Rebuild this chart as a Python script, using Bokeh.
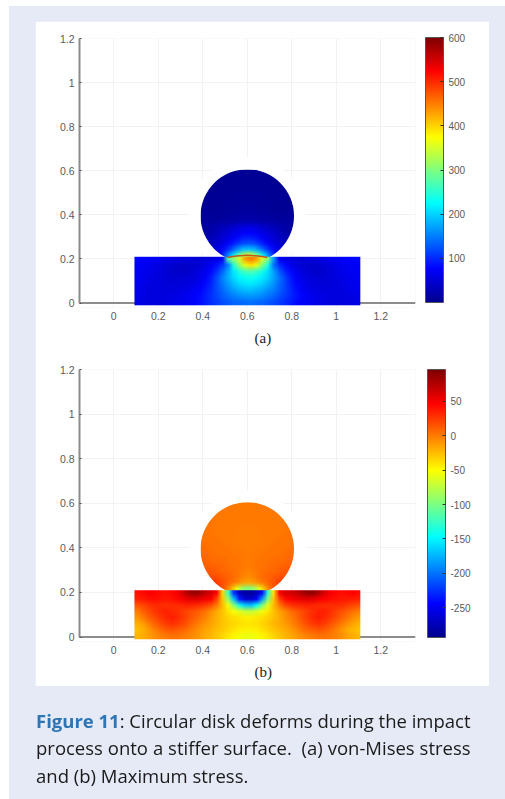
import numpy as np
from bokeh.plotting import figure
from bokeh.embed import file_html
from bokeh.resources import INLINE
from bokeh.layouts import column
from bokeh.models import (LinearColorMapper, ColorBar, FixedTicker, Title, Div, Range1d, Span)

N = float("nan")
x_ticks = [0, 0.2, 0.4, 0.6, 0.8, 1, 1.2]
y_ticks = [0, 0.2, 0.4, 0.6, 0.8, 1, 1.2]
tick_labels = ["0", "0.2", "0.4", "0.6", "0.8", "1", "1.2"]
cb_ticks_a = [100, 200, 300, 400, 500, 600]
cb_ticks_b = [-250, -200, -150, -100, -50, 0, 50]

plate_a = [
 [80,75,72,70,68,62,60,58,55,52,50,48,50,55,62,70,270,310,350,430,450,430,350,300,170,70,60,55,50,48,52,56,60,62,66,70,72,75,78,82],
 [72,68,64,60,56,50,46,44,42,42,44,50,58,70,85,110,150,250,310,360,390,360,300,240,145,105,80,66,55,48,44,42,44,48,54,60,64,68,70,74],
 [70,66,62,58,54,48,44,42,42,44,50,56,66,82,105,135,175,215,245,265,270,258,238,208,170,130,100,80,64,54,48,44,42,46,52,58,62,66,68,72],
 [68,64,60,56,52,50,46,46,48,50,54,62,74,92,120,150,180,205,222,232,235,228,215,198,172,145,115,90,72,60,54,50,48,48,52,56,60,64,66,70],
 [66,62,58,54,52,50,50,50,52,56,60,68,80,98,122,146,168,188,205,212,214,208,198,182,162,140,118,95,78,66,58,54,52,50,52,54,58,62,64,68],
 [64,60,56,54,52,52,54,56,58,62,68,76,88,102,120,138,155,170,182,188,190,185,176,164,150,132,116,100,84,72,64,58,56,54,54,54,56,60,62,66],
 [62,58,56,54,54,56,58,60,64,68,74,82,92,104,118,130,142,152,160,164,165,162,155,146,136,124,112,100,88,78,70,64,60,58,56,54,56,58,60,64],
 [60,58,56,56,56,58,60,62,66,70,76,84,92,102,112,120,128,134,138,140,142,138,134,128,120,112,102,92,82,74,68,64,60,58,56,56,56,56,58,62],
]
disk_a = [
 [N,N,N,N,N,N,6,6,6,6,6,N,N,N,N,N,N],
 [N,N,N,N,6,6,6,6,6,6,6,6,6,N,N,N,N],
 [N,N,6,6,6,6,6,7,7,7,6,6,6,6,6,N,N],
 [N,N,6,6,6,7,7,7,7,7,7,7,6,6,6,N,N],
 [N,6,6,6,7,7,8,8,8,8,8,7,7,6,6,6,N],
 [N,6,6,7,7,8,8,9,9,9,8,8,7,7,6,6,N],
 [6,6,7,7,8,8,9,10,10,10,9,8,8,7,7,6,6],
 [6,7,7,8,9,10,11,12,12,12,11,10,9,8,7,7,6],
 [7,8,9,10,11,12,14,15,16,15,14,12,11,10,9,8,7],
 [10,12,14,16,18,20,22,24,24,24,22,20,18,16,14,12,10],
 [14,18,22,28,34,42,50,56,58,56,50,42,34,28,22,18,14],
 [N,20,28,36,44,54,64,72,76,72,64,54,44,36,28,20,N],
 [N,26,34,44,56,68,82,92,96,92,82,68,56,44,34,26,N],
 [N,N,40,52,68,86,106,122,128,122,106,86,68,52,40,N,N],
 [N,N,48,66,90,122,158,184,192,184,158,122,90,66,48,N,N],
 [N,N,N,N,130,190,260,320,350,320,260,190,130,N,N,N,N],
 [N,N,N,N,N,N,N,N,N,N,N,N,N,N,N,N,N],
]
plate_b = [
 [40,44,48,46,42,40,44,50,62,78,86,82,70,62,45,-35,-125,-225,-270,-285,-285,-275,-240,-130,-40,45,60,62,68,78,86,88,76,60,50,45,42,44,46,42],
 [35,38,40,42,40,38,40,44,50,55,58,56,50,46,20,-30,-90,-170,-235,-262,-265,-245,-185,-100,-30,20,42,48,52,56,58,56,50,46,42,40,38,38,36,34],
 [15,20,25,30,30,28,30,30,32,34,32,28,24,15,0,-25,-55,-95,-140,-165,-170,-145,-100,-60,-25,0,18,26,30,32,34,32,30,30,28,30,28,24,20,14],
 [0,10,18,25,32,35,32,28,24,18,14,8,2,-8,-18,-28,-40,-52,-62,-70,-72,-66,-54,-42,-28,-16,-6,4,12,18,24,30,34,34,30,22,16,10,4,-2],
 [-10,0,10,18,26,32,36,32,26,18,10,4,-4,-12,-20,-28,-34,-38,-42,-44,-44,-42,-38,-32,-26,-18,-10,-2,6,16,24,32,36,32,26,18,10,2,-6,-12],
 [-20,-12,-2,8,16,24,28,26,20,12,4,-4,-10,-16,-22,-28,-32,-36,-38,-40,-40,-38,-34,-30,-24,-18,-12,-6,2,10,20,26,28,24,16,8,0,-8,-16,-22],
 [-26,-20,-12,-2,6,12,14,12,8,2,-4,-10,-16,-20,-26,-30,-36,-40,-44,-46,-46,-44,-40,-34,-28,-24,-18,-12,-6,2,8,12,14,12,6,-2,-10,-18,-24,-28],
 [-22,-18,-14,-8,-4,0,2,2,0,-4,-8,-12,-18,-24,-30,-36,-42,-48,-54,-56,-56,-54,-48,-42,-36,-30,-24,-18,-12,-8,-4,0,2,2,0,-4,-8,-14,-18,-24],
]
disk_b = [
 [N,N,N,N,N,N,1,1,1,1,1,N,N,N,N,N,N],
 [N,N,N,N,1,1,1,1,1,1,1,1,1,N,N,N,N],
 [N,N,1,1,1,1,1,1,1,1,1,1,1,1,1,N,N],
 [N,N,1,1,1,1,1,1,1,1,1,1,1,1,1,N,N],
 [N,2,1,1,1,1,1,0,0,0,1,1,1,1,1,2,N],
 [N,2,1,1,1,1,0,0,0,0,0,1,1,1,1,2,N],
 [3,2,2,1,1,1,0,0,0,0,0,1,1,1,2,2,3],
 [4,3,2,2,1,1,0,0,0,0,0,1,1,2,2,3,4],
 [5,4,3,2,2,1,1,0,0,0,1,1,2,2,3,4,5],
 [6,5,4,3,3,2,1,1,0,1,1,2,3,3,4,5,6],
 [9,7,5,5,4,3,2,1,0,1,2,3,4,5,5,7,9],
 [N,10,8,7,5,4,3,1,0,1,3,4,5,7,8,10,N],
 [N,14,12,9,7,6,3,0,-3,0,3,6,7,9,12,14,N],
 [N,N,18,14,10,7,2,-3,-7,-3,2,7,10,14,18,N,N],
 [N,N,28,20,12,4,-4,-12,-16,-12,-4,4,12,20,28,N,N],
 [N,N,N,N,5,-20,-60,-90,-100,-90,-60,-20,5,N,N,N,N],
 [N,N,N,N,N,N,N,N,N,N,N,N,N,N,N,N,N],
]
contact_x = [0.51, 0.55, 0.60, 0.65, 0.69]
contact_y = [0.207, 0.214, 0.217, 0.214, 0.207]
caption_lines = ["Circular disk deforms during the impact",
                 "process onto a stiffer surface. &nbsp;(a) von-Mises stress",
                 "and (b) Maximum stress."]

def jet_palette():
    t = np.linspace(0, 1, 256)
    r = np.interp(t, [0, .375, .625, .875, 1], [0, 0, 1, 1, .5])
    g = np.interp(t, [0, .125, .375, .625, .875, 1], [0, 0, 1, 1, 0, 0])
    b = np.interp(t, [0, .125, .375, .625, 1], [.56, 1, 1, 0, 0])
    return ["#%02x%02x%02x" % (int(a*255), int(c*255), int(d*255)) for a, c, d in zip(r, g, b)]

def pad_edges(rows):
    # repeat edge cells one step outward; the white ring below gives the disk its round outline
    a = np.array(rows, dtype=float)
    out = a.copy()
    for i in range(a.shape[0]):
        for j in range(a.shape[1]):
            if np.isnan(a[i, j]):
                near = [a[u, v] for u, v in ((i-1, j), (i+1, j), (i, j-1), (i, j+1))
                        if 0 <= u < a.shape[0] and 0 <= v < a.shape[1] and not np.isnan(a[u, v])]
                if near:
                    out[i, j] = near[0]
    return out

JET = jet_palette()
AXIS = "#8c8c8c"
TXT = "#5a5a5a"
PANEL = "#e6eaf6"

def panel(plate, disk, low, high, cb_ticks, tag, h, top, ppu, bar_h, bar_x, bar_y):
    p = figure(width=454, height=h, output_backend="svg", toolbar_location=None,
               x_range=Range1d(-0.154, 1.356), y_range=Range1d(-0.02, 1.2),
               min_border_left=44, min_border_top=top, min_border_bottom=h-top-int(round(1.22*ppu)), min_border_right=74,
               border_fill_color="white", background_fill_color="white", outline_line_color=None)
    p.grid.grid_line_color = "#f2f2f2"
    p.grid.grid_line_width = 1
    p.xgrid.ticker = FixedTicker(ticks=x_ticks)
    p.ygrid.ticker = FixedTicker(ticks=y_ticks)
    p.xaxis.ticker = FixedTicker(ticks=x_ticks)
    p.yaxis.ticker = FixedTicker(ticks=y_ticks)
    for ax, ticks in ((p.xaxis, x_ticks), (p.yaxis, y_ticks)):
        ax.major_label_overrides = dict(zip(ticks, tick_labels))
        ax.minor_tick_line_color = None
        ax.major_label_text_color = TXT
        ax.major_label_text_font = "Liberation Sans"
        ax.major_label_text_font_size = "10.5px"
    p.xaxis.axis_line_color = None
    p.xaxis.major_tick_line_color = None
    p.xaxis.major_tick_out = 0
    p.xaxis.major_tick_in = 0
    p.xaxis.major_label_standoff = 4
    p.yaxis.major_tick_in = 2
    p.yaxis.major_tick_out = 0
    p.yaxis.major_tick_line_color = "#555555"
    p.yaxis.axis_line_color = AXIS
    p.yaxis.axis_line_width = 2
    p.yaxis.major_label_standoff = 5
    p.yaxis.bounds = (0, 1.2)
    p.add_layout(Span(location=0, dimension="width", line_color=AXIS, line_width=2, level="underlay"))
    cm = LinearColorMapper(palette=JET, low=low, high=high, nan_color="rgba(0,0,0,0)")
    p.image(image=[pad_edges(disk)[::-1]], x=0.39, y=0.18, dw=0.425, dh=0.425, color_mapper=cm)
    p.annulus(x=[0.6], y=[0.395], inner_radius=0.21, outer_radius=0.262, fill_color="white", line_color=None)
    p.image(image=[np.array(plate, dtype=float)[::-1]], x=0.093, y=-0.01, dw=1.015, dh=0.22, color_mapper=cm)
    cb = ColorBar(color_mapper=cm, width=18, height=bar_h, padding=0, margin=0, location=(bar_x, bar_y),
                  ticker=FixedTicker(ticks=cb_ticks), major_tick_in=3, major_tick_out=0,
                  major_tick_line_color="#333333", minor_tick_line_color=None, bar_line_color="#555555",
                  major_label_overrides={t: str(t) for t in cb_ticks},
                  major_label_text_color=TXT, major_label_text_font="Liberation Sans",
                  major_label_text_font_size="10px", label_standoff=5, background_fill_color=None,
                  border_line_color=None)
    p.add_layout(cb, "right")
    p.add_layout(Title(text=tag, align="left", offset=175, standoff=10, text_font="Liberation Serif",
                       text_font_size="15px", text_font_style="normal", text_color="#222222"), "below")
    return p

pa = panel(plate_a, disk_a, 0, 600, cb_ticks_a, "(a)", 330, 17, 220.8, 265, 10, 5)
pb = panel(plate_b, disk_b, -293, 96, cb_ticks_b, "(b)", 336, 19, 223, 268, 12, 4)
pa.line(contact_x, contact_y, line_color="#c4561a", line_width=1.5)
pa.margin = (15, 0, 0, 26)
pb.margin = (-1, 0, 0, 26)
line_css = "white-space:nowrap;"
cap = Div(text=(f'<div style="{line_css}text-align:justify;text-align-last:justify"><span style="color:#2e75b6;font-weight:700">Figure 11</span>: {caption_lines[0]}</div>'
                f'<div style="{line_css}text-align:justify;text-align-last:justify">{caption_lines[1]}</div>'
                f'<div style="{line_css}">{caption_lines[2]}</div>'),
          width=453, height=100, margin=(21, 0, 0, 27),
          styles={"font-family": "Open Sans", "font-size": "18.5px", "line-height": "27.3px", "color": "#1a1a1a"})
root = column(pa, pb, cap, spacing=0, width=496, height=793,
              styles={"position": "fixed", "left": "9px", "top": "6px", "background": PANEL})
html = file_html(root, INLINE)
# let the browser smooth the scaled images, as in the soft reference picture
smooth = ("<script>Object.defineProperty(CanvasRenderingContext2D.prototype,'imageSmoothingEnabled',"
          "{set(v){},get(){return true}});</script>")
html = html.replace("<head>", "<head>" + smooth, 1)
open("out.html", "w").write(html)
